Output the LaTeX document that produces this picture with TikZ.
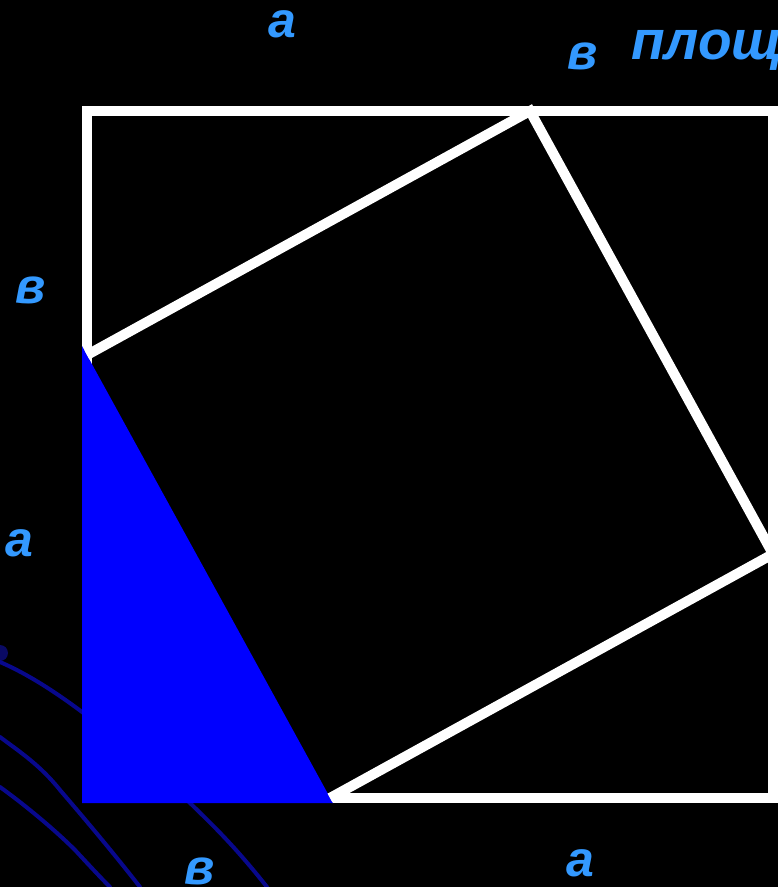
\documentclass[tikz,border=0pt]{standalone}
\usepackage{fontspec}
\setmainfont{Liberation Sans}
\definecolor{lbl}{RGB}{51,153,255}
\definecolor{tri}{RGB}{0,0,255}
\definecolor{deco}{RGB}{8,8,140}
\definecolor{decodot}{RGB}{10,10,100}
\begin{document}
\begin{tikzpicture}[x=1pt,y=-1pt,
  lab/.style={text=lbl,font=\fontsize{50}{60}\selectfont\bfseries\itshape,inner sep=0pt},
  wline/.style={draw=white,line width=10pt},
  decoline/.style={draw=deco,line width=4pt,line cap=round}]
\fill[black] (0,0) rectangle (778,887);
\useasboundingbox (0,0) rectangle (778,887);
% background decoration
\fill[decodot] (0,653) circle (8);
\draw[decoline] (0,662) .. controls (30,675) and (60,695) .. (90,718);
\draw[decoline] (0,737) .. controls (20,752) and (40,765) .. (60,790) .. controls (90,825) and (115,855) .. (140,887);
\draw[decoline] (0,787) .. controls (25,805) and (55,830) .. (75,850) .. controls (88,864) and (100,877) .. (110,887);
\draw[decoline] (185,798) .. controls (205,818) and (230,840) .. (267,887);
% outer square
\coordinate (TL) at (87,111);
\coordinate (BR) at (773,798);
\draw[wline,line join=miter] (TL) rectangle (BR);
% inner square vertices
\coordinate (P) at (530,111);
\coordinate (Q) at (773,554);
\coordinate (R) at (330,798);
\coordinate (S) at (87,355);
% blue triangle
\fill[tri] (82,346) -- (82,803) -- (333,803) -- cycle;
% inner square edges
\draw[wline,line join=miter] (S) -- (P) -- (Q) -- (R);
% labels
\node[lab] (a1) at (282,24) {а};
\node[lab] (b1) at (583,56) {в};
\node[lab,anchor=base west,font=\fontsize{55}{66}\selectfont\bfseries\itshape] (pl) at (631,59) {площ};
\node[lab] (b2) at (31,290) {в};
\node[lab] (a2) at (19,543) {а};
\node[lab] (b3) at (200,871) {в};
\node[lab] (a3) at (580,863) {а};
\end{tikzpicture}
\end{document}
